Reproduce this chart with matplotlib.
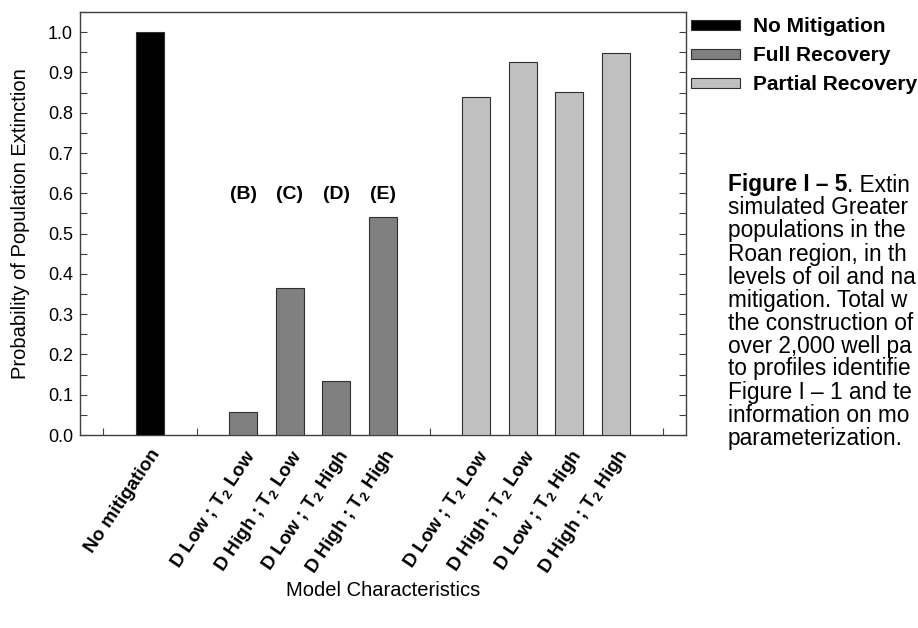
import matplotlib
matplotlib.use("Agg")
import matplotlib.pyplot as plt
from matplotlib.patches import Patch
from matplotlib.ticker import MultipleLocator, FormatStrFormatter

plt.rcParams['font.family'] = ['Liberation Sans', 'DejaVu Sans']
plt.rcParams['mathtext.fontset'] = 'custom'
plt.rcParams['mathtext.rm'] = 'Liberation Sans:bold'
plt.rcParams['mathtext.bf'] = 'Liberation Sans:bold'
plt.rcParams['mathtext.it'] = 'Liberation Sans:bold'
plt.rcParams['mathtext.default'] = 'bf'

# ---- data ----
categories = ["No mitigation",
              "D Low ; T$_2$ Low", "D High ; T$_2$ Low", "D Low ; T$_2$ High", "D High ; T$_2$ High",
              "D Low ; T$_2$ Low", "D High ; T$_2$ Low", "D Low ; T$_2$ High", "D High ; T$_2$ High"]
positions = [1, 3, 4, 5, 6, 8, 9, 10, 11]
no_mitigation = [1.0]
full_recovery = [0.058, 0.366, 0.133, 0.542]
partial_recovery = [0.838, 0.925, 0.852, 0.949]
scenario_labels = ["(B)", "(C)", "(D)", "(E)"]
series_names = ["No Mitigation", "Full Recovery", "Partial Recovery"]
colors = ["#000000", "#808080", "#c0c0c0"]
caption_title = "Figure I \u2013 5"
caption_first = ". Extin"
caption_lines = ["simulated Greater",
                 "populations in the",
                 "Roan region, in th",
                 "levels of oil and na",
                 "mitigation. Total w",
                 "the construction of",
                 "over 2,000 well pa",
                 "to profiles identifie",
                 "Figure I \u2013 1 and te",
                 "information on mo",
                 "parameterization."]

fig = plt.figure(figsize=(9.18, 6.28), dpi=100)
ax = fig.add_axes([80/918, 1-435/628, 606/918, 423/628])

edge = "#303030"
w = 0.6
ax.bar(positions[0:1], no_mitigation, width=w, color=colors[0], edgecolor=edge, linewidth=0.8, zorder=3)
ax.bar(positions[1:5], full_recovery, width=w, color=colors[1], edgecolor=edge, linewidth=0.8, zorder=3)
ax.bar(positions[5:9], partial_recovery, width=w, color=colors[2], edgecolor=edge, linewidth=0.8, zorder=3)

for x, lab in zip(positions[1:5], scenario_labels):
    ax.text(x, 0.597, lab, ha='center', va='center', fontsize=14, fontweight='bold')

ax.set_xlim(-0.5, 12.5)
ax.set_ylim(0, 1.05)
ax.yaxis.set_major_locator(MultipleLocator(0.1))
ax.yaxis.set_minor_locator(MultipleLocator(0.05))
ax.yaxis.set_major_formatter(FormatStrFormatter('%.1f'))
ax.tick_params(axis='y', which='both', direction='in', length=5, width=0.8, color='#404040',
               right=True, labelsize=13, pad=5)
ax.set_xticks(range(13), minor=True)
ax.set_xticks(positions)
ax.set_xticklabels(categories, rotation=56, ha='right', rotation_mode='anchor',
                   fontsize=13.6, fontweight='bold')
ax.tick_params(axis='x', which='both', direction='in', length=5, width=0.8, color='#404040', pad=8)
for s in ax.spines.values():
    s.set_color('#404040')
    s.set_linewidth(1.0)

ax.set_ylabel("Probability of Population Extinction", fontsize=14.5, labelpad=13)
fig.text(383/918, 1-590/628, "Model Characteristics", ha='center', va='center', fontsize=14.5)

handles = [Patch(facecolor=c, edgecolor=edge, linewidth=0.8) for c in colors]
leg = fig.legend(handles, series_names, loc='upper left', bbox_to_anchor=(683/918, 1-9/628),
                 frameon=False, prop={'weight': 'bold', 'size': 15}, handlelength=2.35,
                 handleheight=0.35, handletextpad=0.6, labelspacing=0.48, borderaxespad=0)

cx = 728/918
fs = 16.3
t0 = fig.text(cx, 1-185/628, caption_title, fontsize=fs, fontweight='bold', va='center')
ax.annotate(caption_first, xy=(1, 0), xycoords=t0, va='bottom', ha='left',
            fontsize=fs, annotation_clip=False)
for i, line in enumerate(caption_lines):
    fig.text(cx, 1-(185+23*(i+1))/628, line, fontsize=fs, va='center')

fig.savefig("out.png", dpi=100)
